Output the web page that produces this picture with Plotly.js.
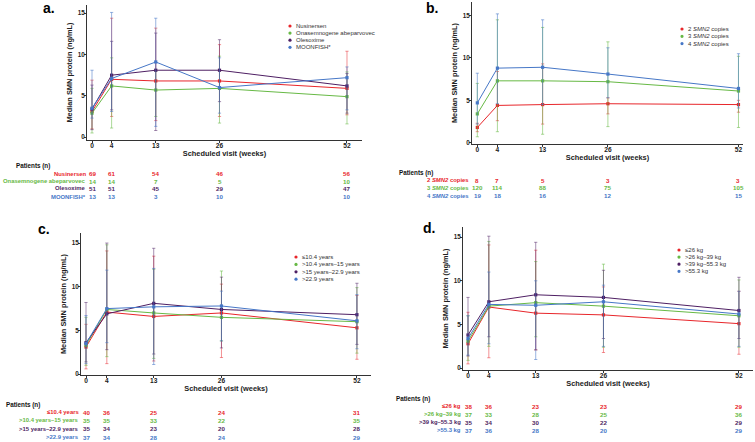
<!DOCTYPE html>
<html>
<head>
<meta charset="utf-8">
<script src="https://cdn.plot.ly/plotly-3.0.1.min.js"></script>
<style>html,body{margin:0;padding:0;background:#fff}#chart{width:755px;height:442px}</style>
</head>
<body>
<div id="chart"></div>
<script>
// ---------- DATA ----------
const weeks = [0, 4, 13, 26, 52];
const weekLabels = ['0', '4', '13', '26', '52'];

// Panel a: by treatment
const aNames = ['Nusinersen', 'Onasemnogene abeparvovec', 'Olesoxime', 'MOONFISH*'];
const aMedNusinersen = [3.1, 7.0, 6.8, 6.8, 5.9];
const aHiNusinersen = [6.9, 14.4, 13.2, 11.2, 10.4];
const aLoNusinersen = [1.0, 2.5, 2.0, 2.5, 2.7];
const aMedOnasemnogene = [2.9, 6.2, 5.7, 5.9, 4.9];
const aHiOnasemnogene = [5.9, 9.6, 8.0, 9.8, 7.9];
const aLoOnasemnogene = [0.5, 1.1, 2.5, 1.7, 1.6];
const aMedOlesoxime = [3.4, 7.5, 8.1, 8.1, 6.2];
const aHiOlesoxime = [6.3, 11.6, 12.6, 11.8, 7.7];
const aLoOlesoxime = [0.9, 3.3, 0.8, 4.3, 2.9];
const aMedMoonfish = [3.5, 7.1, 9.1, 6.0, 7.2];
const aHiMoonfish = [8.1, 15.1, 14.4, 9.6, 8.5];
const aLoMoonfish = [2.3, 3.1, 1.3, 2.9, 3.3];
const aNNusinersen = [69, 61, 54, 46, 56];
const aNOnasemnogene = [14, 14, 7, 5, 10];
const aNOlesoxime = [51, 51, 45, 29, 47];
const aNMoonfish = [13, 13, 3, 10, 10];

// Panel b: by SMN2 copy number
const bNames = ['2 <i>SMN2</i> copies', '3 <i>SMN2</i> copies', '4 <i>SMN2</i> copies'];
const bMed2 = [1.8, 4.4, 4.5, 4.6, 4.5];
const bHi2 = [2.3, 8.4, 9.3, 5.3, 5.0];
const bLo2 = [1.3, 2.6, 2.2, 3.4, 3.6];
const bMed3 = [3.4, 7.3, 7.3, 7.2, 6.1];
const bHi3 = [7.0, 14.5, 13.6, 11.9, 10.2];
const bLo3 = [0.7, 1.3, 1.0, 1.9, 1.8];
const bMed4 = [4.7, 8.8, 8.9, 8.1, 6.4];
const bHi4 = [8.2, 15.2, 14.5, 11.2, 10.5];
const bLo4 = [2.2, 4.6, 4.5, 5.3, 4.1];
const bN2 = [8, 7, 5, 3, 3];
const bN3 = [120, 114, 88, 75, 105];
const bN4 = [19, 18, 16, 12, 15];

// Panel c: by age
const cNames = ['≤10.4 years', '>10.4 years–15 years', '>15 years–22.9 years', '>22.9 years'];
const cMed1 = [3.1, 7.1, 6.6, 7.0, 5.3];
const cHi1 = [5.7, 14.1, 13.5, 10.3, 9.0];
const cLo1 = [0.6, 1.2, 1.5, 1.9, 1.7];
const cMed2 = [3.3, 7.4, 7.0, 6.5, 6.0];
const cHi2 = [6.5, 14.8, 12.0, 11.8, 9.9];
const cLo2 = [1.0, 2.0, 1.8, 3.8, 2.4];
const cMed3 = [3.6, 6.9, 8.1, 7.4, 6.8];
const cHi3 = [8.2, 15.0, 14.4, 11.1, 10.4];
const cLo3 = [1.4, 2.8, 2.3, 3.0, 3.4];
const cMed4 = [3.5, 7.5, 7.7, 7.8, 6.1];
const cHi4 = [6.7, 11.9, 12.1, 9.5, 9.1];
const cLo4 = [1.2, 3.6, 1.1, 3.8, 2.9];
const cN1 = [40, 36, 25, 24, 31];
const cN2 = [35, 35, 33, 22, 35];
const cN3 = [35, 34, 23, 20, 28];
const cN4 = [37, 34, 28, 24, 29];

// Panel d: by weight
const dNames = ['≤26 kg', '>26 kg–39 kg', '>39 kg–55.3 kg', '>55.3 kg'];
const dMed1 = [2.8, 7.0, 6.3, 6.1, 5.1];
const dHi1 = [6.4, 14.1, 13.5, 9.3, 8.8];
const dLo1 = [0.5, 1.2, 2.1, 1.8, 1.6];
const dMed2 = [3.1, 7.1, 7.5, 7.1, 6.0];
const dHi2 = [6.0, 14.5, 12.2, 11.9, 10.1];
const dLo2 = [0.9, 2.5, 3.6, 2.4, 2.4];
const dMed3 = [3.8, 7.6, 8.4, 8.1, 6.6];
const dHi3 = [8.1, 15.1, 14.4, 11.2, 10.4];
const dLo3 = [1.4, 3.6, 2.1, 3.4, 3.4];
const dMed4 = [3.4, 7.3, 7.2, 7.6, 6.2];
const dHi4 = [6.0, 11.0, 10.0, 9.5, 8.8];
const dLo4 = [1.5, 2.8, 1.0, 2.5, 2.5];
const dN1 = [38, 36, 23, 23, 29];
const dN2 = [37, 33, 28, 25, 36];
const dN3 = [35, 34, 30, 22, 29];
const dN4 = [37, 36, 28, 20, 29];

// ---------- STYLE / LAYOUT ----------
const W = 755, H = 442;
const px = v => v / W;
const py = v => 1 - v / H;
const COLORS = ['#e8262b', '#67b945', '#4e1f63', '#4677c7'];
const ERRCOLORS = ['rgba(232,38,43,0.5)', 'rgba(103,185,69,0.55)', 'rgba(78,31,99,0.5)', 'rgba(70,119,199,0.55)'];
const FONT = 'Liberation Sans, Arial, sans-serif';

const panels = [
  { letter: 'a.', id: '', names: aNames, cols: [0, 1, 2, 3],
    med: [aMedNusinersen, aMedOnasemnogene, aMedOlesoxime, aMedMoonfish],
    hi: [aHiNusinersen, aHiOnasemnogene, aHiOlesoxime, aHiMoonfish],
    lo: [aLoNusinersen, aLoOnasemnogene, aLoOlesoxime, aLoMoonfish],
    n: [aNNusinersen, aNOnasemnogene, aNOlesoxime, aNMoonfish],
    xd: [87, 362], yd: [140, 5], xr: [-1.02, 55.06], yr: [-0.35, 16],
    lab: [41, 8], leg: [290, 26, 7.1], pat: [14, 166], rowEnd: 86.3, rows: [173.7, 181, 188.4, 196.5] },
  { letter: 'b.', id: '2', names: bNames, cols: [0, 1, 3],
    med: [bMed2, bMed3, bMed4], hi: [bHi2, bHi3, bHi4], lo: [bLo2, bLo3, bLo4],
    n: [bN2, bN3, bN4],
    xd: [472, 743], yd: [144, 2], xr: [-1.06, 52.9], yr: [-0.15, 16.6],
    lab: [424, 8], leg: [682, 29, 7.3], pat: [397, 173], rowEnd: 468.5, rows: [180.2, 187.6, 195.6] },
  { letter: 'c.', id: '3', names: cNames, cols: [0, 1, 2, 3],
    med: [cMed1, cMed2, cMed3, cMed4], hi: [cHi1, cHi2, cHi3, cHi4], lo: [cLo1, cLo2, cLo3, cLo4],
    n: [cN1, cN2, cN3, cN4],
    xd: [81, 371], yd: [375, 233], xr: [-0.96, 54.7], yr: [-0.1, 16.15],
    lab: [36, 229], leg: [296, 257, 7.4], pat: [4, 404.5], rowEnd: 78.8, rows: [412, 420.3, 428.7, 437] },
  { letter: 'd.', id: '4', names: dNames, cols: [0, 1, 2, 3],
    med: [dMed1, dMed2, dMed3, dMed4], hi: [dHi1, dHi2, dHi3, dHi4], lo: [dLo1, dLo2, dLo3, dLo4],
    n: [dN1, dN2, dN3, dN4],
    xd: [463, 753], yd: [370, 227], xr: [-0.96, 54.7], yr: [-0.2, 16.15],
    lab: [421, 228], leg: [679, 250, 7.1], pat: [394, 399], rowEnd: 460.8, rows: [406, 414, 422, 430] }
];

const traces = [];
const annotations = [];
const shapes = [];
const layout = {
  width: W, height: H,
  margin: { l: 0, r: 0, t: 0, b: 0 },
  paper_bgcolor: '#fff', plot_bgcolor: 'rgba(0,0,0,0)',
  showlegend: false,
  font: { family: FONT, color: '#222' },
  annotations: annotations, shapes: shapes
};

panels.forEach((p) => {
  const xa = 'x' + p.id, ya = 'y' + p.id;
  const xk = 'xaxis' + p.id, yk = 'yaxis' + p.id;
  layout[xk] = {
    domain: [px(p.xd[0]), px(p.xd[1])], range: p.xr, anchor: ya,
    tickvals: weeks, ticktext: weekLabels, ticks: 'outside', ticklen: 2, tickwidth: 1, tickcolor: '#333',
    ticklabelstandoff: -3,
    showline: true, linecolor: '#333', linewidth: 1, showgrid: false, zeroline: false,
    tickfont: { size: 6.6, family: FONT, weight: 'bold', color: '#222' },
    title: { text: 'Scheduled visit (weeks)', standoff: 0, font: { size: 7.4, family: FONT, weight: 'bold', color: '#222' } }
  };
  layout[yk] = {
    domain: [py(p.yd[0]), py(p.yd[1])], range: p.yr, anchor: xa,
    tickvals: [0, 5, 10, 15], ticks: 'outside', ticklen: 2, tickwidth: 1, tickcolor: '#333',
    ticklabelstandoff: -2,
    showline: true, linecolor: '#333', linewidth: 1, showgrid: false, zeroline: false,
    tickfont: { size: 6.3, family: FONT, weight: 'bold', color: '#222' },
    title: { text: 'Median SMN protein (ng/mL)', standoff: 4, font: { size: 7.4, family: FONT, weight: 'bold', color: '#222' } }
  };

  p.med.forEach((m, si) => {
    const ci = p.cols[si];
    traces.push({
      type: 'scatter', mode: 'lines+markers', x: weeks, y: m, xaxis: xa, yaxis: ya,
      name: p.names[si],
      line: { color: COLORS[ci], width: 1 },
      marker: { symbol: 'square', size: 3.2, color: COLORS[ci] },
      error_y: {
        type: 'data', symmetric: false,
        array: p.hi[si].map((h, i) => +(h - m[i]).toFixed(3)),
        arrayminus: p.lo[si].map((l, i) => +(m[i] - l).toFixed(3)),
        color: ERRCOLORS[ci], thickness: 1, width: 1.6
      },
      cliponaxis: false
    });
  });

  // panel letter
  annotations.push({ xref: 'paper', yref: 'paper', x: px(p.lab[0]), y: py(p.lab[1]), xanchor: 'left', yanchor: 'middle',
    text: p.letter, showarrow: false, font: { size: 14, family: FONT, weight: 'bold', color: '#000' } });

  // legend (dots + labels)
  p.names.forEach((nm, si) => {
    const ci = p.cols[si];
    const cy = p.leg[1] + si * p.leg[2];
    const r = 1.6;
    shapes.push({ type: 'circle', xref: 'paper', yref: 'paper',
      x0: px(p.leg[0] - r), x1: px(p.leg[0] + r), y0: py(cy + r), y1: py(cy - r),
      fillcolor: COLORS[ci], line: { width: 0 } });
    annotations.push({ xref: 'paper', yref: 'paper', x: px(p.leg[0] + 3.5), y: py(cy), xanchor: 'left', yanchor: 'middle',
      text: nm, showarrow: false, font: { size: 6, family: FONT, color: '#333' } });
  });

  // patients table
  annotations.push({ xref: 'paper', yref: 'paper', x: px(p.pat[0]), y: py(p.pat[1]), xanchor: 'left', yanchor: 'middle',
    text: 'Patients (n)', showarrow: false, font: { size: 6.3, family: FONT, weight: 'bold', color: '#111' } });
  p.n.forEach((row, si) => {
    const ci = p.cols[si];
    const ry = py(p.rows[si]);
    annotations.push({ xref: 'paper', yref: 'paper', x: px(p.rowEnd), y: ry, xanchor: 'right', yanchor: 'middle',
      borderpad: 0, borderwidth: 0,
      text: p.names[si], showarrow: false, font: { size: 5.9, family: FONT, weight: 'bold', color: COLORS[ci] } });
    row.forEach((v, wi) => {
      annotations.push({ xref: xa, yref: 'paper', x: weeks[wi], y: ry, xanchor: 'center', yanchor: 'middle',
        text: String(v), showarrow: false, font: { size: 6.2, family: FONT, weight: 'bold', color: COLORS[ci] } });
    });
  });
});

Plotly.newPlot('chart', traces, layout, { displayModeBar: false, staticPlot: true });
</script>
</body>
</html>
